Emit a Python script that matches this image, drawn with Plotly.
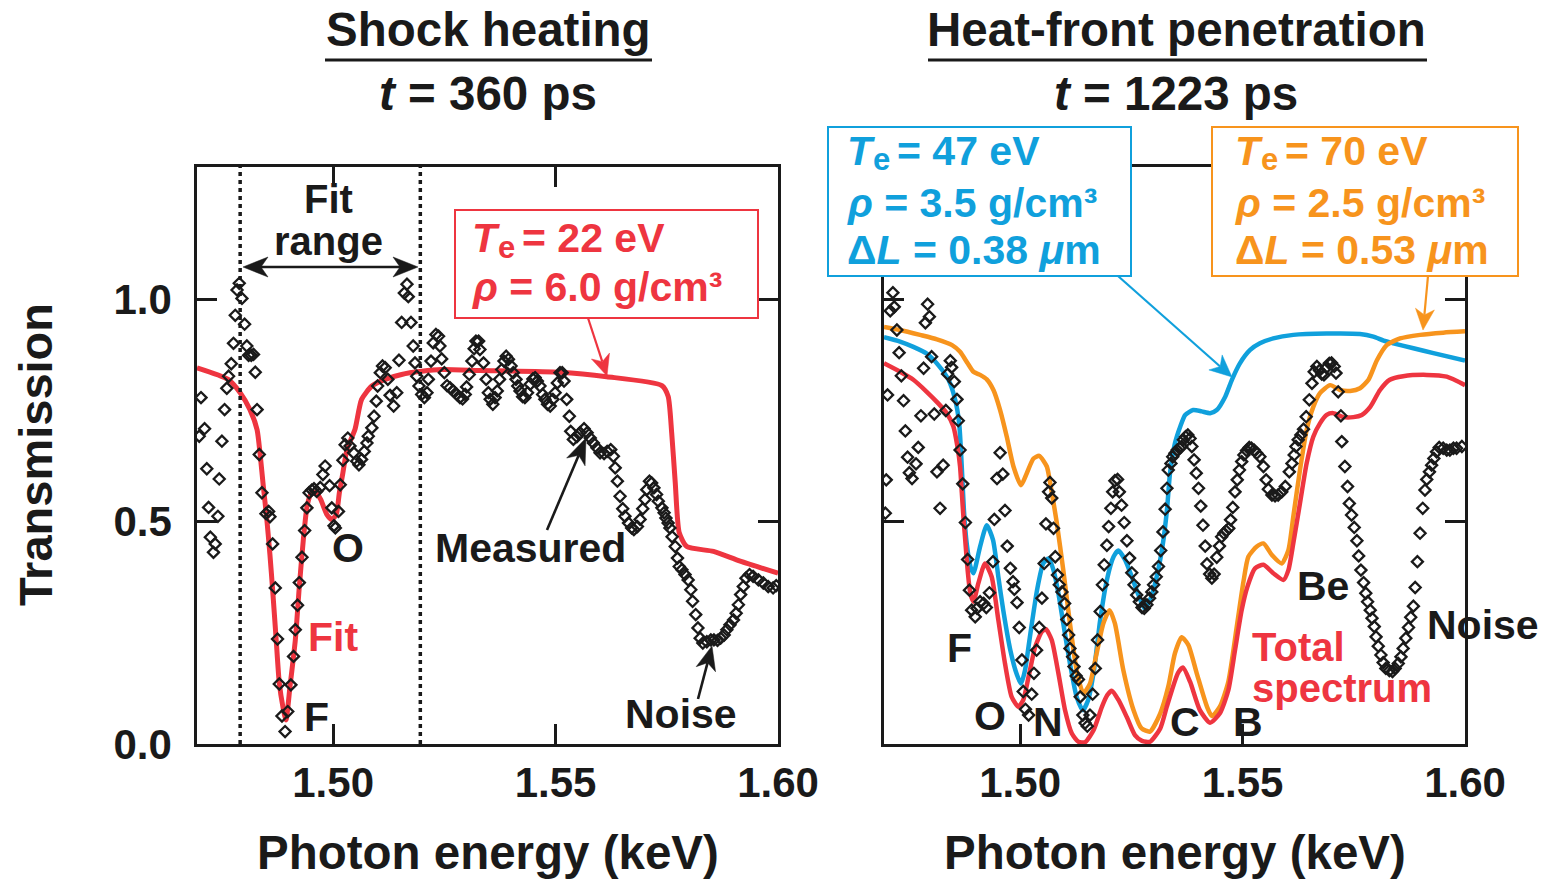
import math
import plotly.graph_objects as go

W, H = 1545, 879
FONT = "Liberation Sans, Arial, Helvetica, sans-serif"
BLACK = "#1a1a1a"
RED = "#EE3540"
BLUE = "#10A0DC"
ORANGE = "#F7941D"

# ---------------- data (photon energy keV, transmission) ----------------
# Left panel: t = 360 ps, measured transmission
left_measured = [
    (1.4699, 0.692), (1.4703, 0.779), (1.4711, 0.709), (1.4716, 0.619), (1.4720, 0.532), (1.4724, 0.465),
    (1.4731, 0.431), (1.4735, 0.450), (1.4741, 0.512), (1.4744, 0.596), (1.4750, 0.681), (1.4756, 0.752),
    (1.4761, 0.800), (1.4765, 0.827), (1.4771, 0.855), (1.4776, 0.901), (1.4780, 0.964), (1.4784, 1.021),
    (1.4789, 1.036), (1.4795, 1.002), (1.4801, 0.944), (1.4806, 0.895), (1.4810, 0.874), (1.4816, 0.874),
    (1.4821, 0.876), (1.4825, 0.836), (1.4829, 0.752), (1.4834, 0.651),
    (1.4840, 0.565), (1.4849, 0.518), (1.4855, 0.523), (1.4858, 0.511), (1.4864, 0.450), (1.4870, 0.351),
    (1.4875, 0.236), (1.4879, 0.135), (1.4885, 0.063), (1.4892, 0.028), (1.4898, 0.073), (1.4905, 0.133),
    (1.4911, 0.197), (1.4915, 0.257), (1.4920, 0.312), (1.4924, 0.363), (1.4930, 0.420), (1.4936, 0.480),
    (1.4941, 0.531), (1.4946, 0.565), (1.4952, 0.571), (1.4957, 0.574), (1.4963, 0.568), (1.4971, 0.577),
    (1.4977, 0.606), (1.4982, 0.625), (1.4992, 0.581), (1.4997, 0.531), (1.5002, 0.491), (1.5005, 0.486),
    (1.5012, 0.523), (1.5016, 0.583), (1.5022, 0.638), (1.5027, 0.673),
    (1.5033, 0.688), (1.5038, 0.670), (1.5046, 0.655), (1.5053, 0.636), (1.5058, 0.628), (1.5064, 0.640),
    (1.5070, 0.658), (1.5076, 0.677), (1.5079, 0.692), (1.5087, 0.711), (1.5092, 0.737), (1.5097, 0.771),
    (1.5100, 0.805), (1.5106, 0.835), (1.5111, 0.850), (1.5117, 0.846), (1.5123, 0.820), (1.5128, 0.784),
    (1.5136, 0.760), (1.5143, 0.790), (1.5148, 0.863), (1.5154, 0.948), (1.5160, 1.014), (1.5166, 1.034),
    (1.5169, 1.006), (1.5175, 0.948), (1.5180, 0.895), (1.5184, 0.857), (1.5188, 0.827), (1.5193, 0.805),
    (1.5199, 0.786), (1.5205, 0.779), (1.5211, 0.790), (1.5214, 0.820), (1.5220, 0.861), (1.5225, 0.902),
    (1.5231, 0.921), (1.5237, 0.917), (1.5240, 0.895), (1.5244, 0.866), (1.5250, 0.835),
    (1.5256, 0.806), (1.5263, 0.801), (1.5270, 0.794), (1.5278, 0.786), (1.5285, 0.779), (1.5291, 0.776),
    (1.5297, 0.786), (1.5300, 0.803), (1.5306, 0.831), (1.5312, 0.861), (1.5317, 0.889), (1.5321, 0.906),
    (1.5327, 0.906), (1.5330, 0.887), (1.5338, 0.857), (1.5344, 0.820), (1.5349, 0.790), (1.5353, 0.775),
    (1.5359, 0.764), (1.5364, 0.779), (1.5369, 0.794), (1.5374, 0.820), (1.5379, 0.842), (1.5384, 0.861),
    (1.5389, 0.872), (1.5394, 0.865), (1.5400, 0.850), (1.5405, 0.835), (1.5411, 0.820), (1.5415, 0.805),
    (1.5420, 0.794), (1.5426, 0.781), (1.5431, 0.779), (1.5437, 0.790), (1.5443, 0.809), (1.5449, 0.821),
    (1.5454, 0.824), (1.5459, 0.816), (1.5465, 0.805), (1.5471, 0.786), (1.5476, 0.775), (1.5482, 0.764),
    (1.5488, 0.760), (1.5494, 0.775), (1.5499, 0.790), (1.5504, 0.812), (1.5510, 0.835), (1.5515, 0.835),
    (1.5519, 0.816), (1.5525, 0.775), (1.5531, 0.737),
    (1.5534, 0.703), (1.5540, 0.685), (1.5548, 0.691), (1.5555, 0.700), (1.5564, 0.709), (1.5571, 0.700),
    (1.5578, 0.688), (1.5585, 0.677), (1.5593, 0.666), (1.5600, 0.655), (1.5609, 0.653), (1.5616, 0.658),
    (1.5624, 0.662), (1.5630, 0.647), (1.5634, 0.621), (1.5639, 0.591), (1.5645, 0.557), (1.5651, 0.529),
    (1.5656, 0.512), (1.5664, 0.497), (1.5671, 0.486), (1.5676, 0.482), (1.5684, 0.489), (1.5690, 0.505),
    (1.5696, 0.529), (1.5701, 0.550), (1.5705, 0.572), (1.5711, 0.591), (1.5716, 0.587), (1.5721, 0.576),
    (1.5727, 0.561), (1.5731, 0.546), (1.5739, 0.531), (1.5744, 0.520), (1.5748, 0.508), (1.5753, 0.497),
    (1.5757, 0.486), (1.5762, 0.466), (1.5769, 0.444), (1.5774, 0.418), (1.5778, 0.399), (1.5784, 0.392),
    (1.5791, 0.381), (1.5798, 0.369), (1.5804, 0.347), (1.5808, 0.321), (1.5815, 0.291), (1.5820, 0.261),
    (1.5825, 0.238), (1.5831, 0.227), (1.5840, 0.230), (1.5849, 0.234), (1.5856, 0.234), (1.5864, 0.233),
    (1.5871, 0.238), (1.5879, 0.245), (1.5885, 0.257), (1.5892, 0.268), (1.5900, 0.279), (1.5906, 0.294),
    (1.5911, 0.313), (1.5916, 0.336), (1.5922, 0.354), (1.5928, 0.373), (1.5936, 0.381), (1.5944, 0.377),
    (1.5956, 0.369), (1.5967, 0.362), (1.5978, 0.354), (1.5989, 0.351), (1.5996, 0.356),
]

# Left panel: fit (Te = 22 eV, rho = 6.0 g/cm3)
left_fit = [
    (1.4694, 0.846), (1.4764, 0.820), (1.4791, 0.790), (1.4813, 0.752), (1.4829, 0.707), (1.4836, 0.651),
    (1.4843, 0.580), (1.4851, 0.505), (1.4858, 0.425), (1.4864, 0.347), (1.4872, 0.234), (1.4879, 0.137),
    (1.4887, 0.084), (1.4894, 0.054), (1.4903, 0.129), (1.4915, 0.234), (1.4924, 0.354), (1.4933, 0.459),
    (1.4942, 0.538), (1.4952, 0.565), (1.4962, 0.565), (1.4972, 0.550), (1.4986, 0.516), (1.4997, 0.505),
    (1.5007, 0.516), (1.5014, 0.565), (1.5022, 0.610), (1.5031, 0.662), (1.5049, 0.707), (1.5064, 0.775),
    (1.5087, 0.805), (1.5117, 0.820), (1.5154, 0.831), (1.5199, 0.838), (1.5244, 0.842), (1.5330, 0.840),
    (1.5510, 0.836), (1.5615, 0.826), (1.5739, 0.806), (1.5753, 0.782), (1.5761, 0.700), (1.5769, 0.588),
    (1.5778, 0.475), (1.5795, 0.444), (1.5855, 0.433), (1.5915, 0.411), (1.6000, 0.384),
]

# Right panel: t = 1223 ps, measured transmission
right_measured = [
    (1.4697, 0.519), (1.4699, 0.594), (1.4702, 0.785), (1.4708, 0.974), (1.4714, 1.015), (1.4717, 0.983),
    (1.4723, 0.931), (1.4728, 0.880), (1.4733, 0.828), (1.4738, 0.772), (1.4742, 0.704), (1.4747, 0.645),
    (1.4751, 0.610), (1.4757, 0.597), (1.4766, 0.630), (1.4771, 0.667), (1.4777, 0.738), (1.4783, 0.845),
    (1.4787, 0.947), (1.4792, 0.989), (1.4796, 0.961), (1.4801, 0.871), (1.4807, 0.742), (1.4813, 0.612),
    (1.4820, 0.530), (1.4827, 0.627), (1.4833, 0.750), (1.4837, 0.832), (1.4843, 0.862), (1.4846, 0.847),
    (1.4852, 0.815), (1.4858, 0.775), (1.4861, 0.727), (1.4865, 0.661), (1.4871, 0.585), (1.4877, 0.498),
    (1.4882, 0.415), (1.4886, 0.346), (1.4891, 0.301), (1.4899, 0.286), (1.4903, 0.305), (1.4910, 0.320),
    (1.4918, 0.316), (1.4924, 0.307), (1.4931, 0.340), (1.4939, 0.410), (1.4942, 0.505), (1.4948, 0.597),
    (1.4955, 0.655), (1.4961, 0.607), (1.4966, 0.525), (1.4971, 0.445), (1.4978, 0.395), (1.4984, 0.365),
    (1.4987, 0.348), (1.4993, 0.318), (1.4998, 0.262), (1.5004, 0.189), (1.5007, 0.118), (1.5012, 0.078),
    (1.5019, 0.065), (1.5026, 0.112), (1.5031, 0.159), (1.5037, 0.211), (1.5043, 0.262), (1.5049, 0.328),
    (1.5054, 0.406), (1.5058, 0.495), (1.5064, 0.567), (1.5067, 0.588), (1.5071, 0.553), (1.5075, 0.485),
    (1.5079, 0.421), (1.5084, 0.380), (1.5088, 0.358), (1.5094, 0.342), (1.5100, 0.316), (1.5105, 0.280),
    (1.5109, 0.245), (1.5112, 0.215), (1.5118, 0.196), (1.5121, 0.174), (1.5126, 0.153), (1.5131, 0.145),
    (1.5135, 0.106), (1.5141, 0.065), (1.5146, 0.047), (1.5151, 0.040), (1.5157, 0.065), (1.5163, 0.112),
    (1.5169, 0.170), (1.5174, 0.234), (1.5180, 0.298), (1.5185, 0.358), (1.5189, 0.403), (1.5195, 0.447),
    (1.5199, 0.489), (1.5204, 0.530), (1.5208, 0.567), (1.5213, 0.592), (1.5219, 0.595), (1.5223, 0.567),
    (1.5228, 0.537), (1.5234, 0.498), (1.5240, 0.457), (1.5246, 0.418), (1.5251, 0.385), (1.5256, 0.358),
    (1.5262, 0.335), (1.5268, 0.320), (1.5274, 0.307), (1.5279, 0.305), (1.5285, 0.313), (1.5291, 0.328),
    (1.5296, 0.342), (1.5300, 0.358), (1.5306, 0.376), (1.5311, 0.399), (1.5316, 0.435), (1.5321, 0.477),
    (1.5326, 0.528), (1.5330, 0.575), (1.5333, 0.616),
    (1.5339, 0.631), (1.5343, 0.646), (1.5348, 0.654), (1.5353, 0.661), (1.5358, 0.665), (1.5363, 0.669),
    (1.5367, 0.684), (1.5372, 0.691), (1.5377, 0.695), (1.5382, 0.687), (1.5386, 0.669), (1.5391, 0.639),
    (1.5396, 0.609), (1.5401, 0.575), (1.5406, 0.535), (1.5411, 0.492), (1.5416, 0.445), (1.5420, 0.405),
    (1.5426, 0.382), (1.5431, 0.373), (1.5436, 0.382), (1.5442, 0.420), (1.5448, 0.445), (1.5453, 0.466),
    (1.5458, 0.474), (1.5463, 0.479), (1.5469, 0.485), (1.5473, 0.504), (1.5478, 0.532), (1.5483, 0.567),
    (1.5488, 0.594), (1.5493, 0.616), (1.5498, 0.635), (1.5503, 0.650), (1.5509, 0.660), (1.5515, 0.667),
    (1.5520, 0.665), (1.5526, 0.661), (1.5532, 0.654),
    (1.5539, 0.646), (1.5547, 0.624), (1.5553, 0.594), (1.5558, 0.573), (1.5566, 0.560), (1.5573, 0.558),
    (1.5580, 0.560), (1.5588, 0.567), (1.5596, 0.579), (1.5605, 0.612), (1.5611, 0.631), (1.5616, 0.650),
    (1.5620, 0.669), (1.5625, 0.684), (1.5631, 0.695), (1.5637, 0.708), (1.5643, 0.736), (1.5650, 0.774),
    (1.5656, 0.811), (1.5661, 0.837), (1.5667, 0.849), (1.5673, 0.840), (1.5678, 0.832), (1.5683, 0.830),
    (1.5689, 0.847), (1.5695, 0.856), (1.5700, 0.857), (1.5706, 0.849), (1.5710, 0.834), (1.5715, 0.792),
    (1.5721, 0.738), (1.5723, 0.680), (1.5730, 0.624), (1.5736, 0.579), (1.5740, 0.541), (1.5745, 0.515),
    (1.5751, 0.487), (1.5757, 0.457), (1.5761, 0.423), (1.5766, 0.391), (1.5772, 0.363), (1.5777, 0.339),
    (1.5781, 0.320), (1.5787, 0.301), (1.5791, 0.283), (1.5796, 0.264), (1.5800, 0.241), (1.5805, 0.220),
    (1.5811, 0.200), (1.5816, 0.183), (1.5822, 0.170), (1.5830, 0.165), (1.5837, 0.163), (1.5843, 0.170),
    (1.5850, 0.181), (1.5856, 0.196), (1.5861, 0.215), (1.5867, 0.238), (1.5873, 0.262), (1.5878, 0.285),
    (1.5884, 0.310), (1.5888, 0.352), (1.5893, 0.410), (1.5899, 0.474), (1.5905, 0.530), (1.5910, 0.571),
    (1.5914, 0.595), (1.5920, 0.612), (1.5925, 0.627), (1.5930, 0.642), (1.5936, 0.657), (1.5942, 0.667),
    (1.5951, 0.665), (1.5959, 0.661), (1.5966, 0.661), (1.5974, 0.665), (1.5981, 0.665), (1.5993, 0.669),
]

# Right panel: model 47 eV component
right_47eV = [
    (1.4694, 0.915), (1.4730, 0.905), (1.4760, 0.893), (1.4790, 0.878), (1.4816, 0.852), (1.4839, 0.819),
    (1.4854, 0.774), (1.4863, 0.721), (1.4869, 0.620), (1.4874, 0.520), (1.4880, 0.450), (1.4888, 0.400),
    (1.4895, 0.384), (1.4910, 0.444), (1.4925, 0.492), (1.4939, 0.459), (1.4951, 0.376), (1.4962, 0.301),
    (1.4978, 0.211), (1.4993, 0.155), (1.5002, 0.136), (1.5011, 0.166), (1.5022, 0.241), (1.5038, 0.346),
    (1.5052, 0.406), (1.5064, 0.417), (1.5075, 0.391), (1.5086, 0.339), (1.5097, 0.271), (1.5112, 0.181),
    (1.5127, 0.106), (1.5141, 0.076), (1.5153, 0.099), (1.5166, 0.166), (1.5180, 0.279), (1.5195, 0.369),
    (1.5210, 0.421), (1.5221, 0.435), (1.5236, 0.414), (1.5251, 0.376), (1.5266, 0.335), (1.5279, 0.305),
    (1.5292, 0.324), (1.5307, 0.376), (1.5321, 0.451), (1.5330, 0.526), (1.5337, 0.610), (1.5348, 0.676),
    (1.5360, 0.714), (1.5371, 0.740), (1.5389, 0.751), (1.5408, 0.748), (1.5427, 0.744), (1.5442, 0.751),
    (1.5461, 0.781), (1.5476, 0.819), (1.5494, 0.856), (1.5517, 0.886), (1.5539, 0.901), (1.5569, 0.912),
    (1.5614, 0.920), (1.5689, 0.923), (1.5764, 0.922), (1.5794, 0.916), (1.5817, 0.907), (1.5839, 0.901),
    (1.5884, 0.890), (1.5929, 0.879), (1.6000, 0.862),
]

# Right panel: model 70 eV component
right_70eV = [
    (1.4694, 0.938), (1.4730, 0.931), (1.4775, 0.920), (1.4813, 0.910), (1.4847, 0.897), (1.4865, 0.882),
    (1.4882, 0.856), (1.4895, 0.837), (1.4910, 0.830), (1.4925, 0.820), (1.4940, 0.796), (1.4955, 0.751),
    (1.4970, 0.691), (1.4985, 0.624), (1.5002, 0.582), (1.5015, 0.609), (1.5030, 0.642), (1.5043, 0.648),
    (1.5060, 0.624), (1.5067, 0.590), (1.5082, 0.500), (1.5097, 0.391), (1.5112, 0.271), (1.5127, 0.166),
    (1.5142, 0.114), (1.5157, 0.136), (1.5172, 0.204), (1.5187, 0.271), (1.5201, 0.301), (1.5213, 0.271),
    (1.5232, 0.166), (1.5255, 0.076), (1.5273, 0.035), (1.5292, 0.028), (1.5315, 0.069), (1.5333, 0.129),
    (1.5348, 0.204), (1.5363, 0.240), (1.5378, 0.223), (1.5397, 0.159), (1.5420, 0.084), (1.5431, 0.063),
    (1.5449, 0.084), (1.5468, 0.140), (1.5487, 0.264), (1.5502, 0.365), (1.5513, 0.421), (1.5532, 0.444),
    (1.5547, 0.451), (1.5566, 0.425), (1.5588, 0.406), (1.5603, 0.436), (1.5614, 0.511), (1.5629, 0.616),
    (1.5644, 0.706), (1.5659, 0.758), (1.5674, 0.789), (1.5697, 0.807), (1.5719, 0.796), (1.5742, 0.794),
    (1.5764, 0.800), (1.5783, 0.819), (1.5802, 0.863), (1.5824, 0.897), (1.5854, 0.912), (1.5899, 0.920),
    (1.5951, 0.925), (1.6000, 0.928),
]

# Right panel: total spectrum
right_total = [
    (1.4694, 0.856), (1.4730, 0.837), (1.4760, 0.819), (1.4790, 0.792), (1.4816, 0.766), (1.4835, 0.744),
    (1.4850, 0.714), (1.4859, 0.669), (1.4865, 0.624), (1.4869, 0.564), (1.4873, 0.504), (1.4876, 0.466),
    (1.4882, 0.391), (1.4888, 0.339), (1.4895, 0.320), (1.4906, 0.361), (1.4921, 0.406), (1.4936, 0.376),
    (1.4951, 0.279), (1.4966, 0.181), (1.4981, 0.106), (1.4996, 0.084), (1.5007, 0.099), (1.5019, 0.151),
    (1.5034, 0.219), (1.5049, 0.253), (1.5058, 0.258), (1.5071, 0.234), (1.5086, 0.159), (1.5101, 0.076),
    (1.5116, 0.024), (1.5131, 0.005), (1.5146, 0.004), (1.5165, 0.031), (1.5184, 0.084), (1.5196, 0.110),
    (1.5206, 0.120), (1.5221, 0.099), (1.5240, 0.060), (1.5258, 0.020), (1.5274, 0.007), (1.5292, 0.005),
    (1.5315, 0.035), (1.5330, 0.085), (1.5344, 0.130), (1.5355, 0.160), (1.5366, 0.172), (1.5382, 0.140),
    (1.5404, 0.076), (1.5427, 0.048), (1.5449, 0.069), (1.5468, 0.121), (1.5483, 0.211), (1.5498, 0.301),
    (1.5511, 0.354), (1.5528, 0.395), (1.5547, 0.403), (1.5569, 0.384), (1.5592, 0.369), (1.5603, 0.391),
    (1.5614, 0.451), (1.5629, 0.541), (1.5644, 0.631), (1.5659, 0.691), (1.5674, 0.721), (1.5689, 0.740),
    (1.5704, 0.744), (1.5727, 0.735), (1.5749, 0.735), (1.5768, 0.740), (1.5787, 0.758), (1.5809, 0.796),
    (1.5831, 0.819), (1.5861, 0.827), (1.5914, 0.830), (1.5959, 0.826), (1.6000, 0.807),
]

x_range = [1.4694, 1.6000]
y_range = [0.0, 1.2975]
x_tick_vals = [1.50, 1.55, 1.60]
x_tick_text = ["1.50", "1.55", "1.60"]
y_tick_vals = [0.0, 0.5, 1.0]
y_tick_text = ["0.0", "0.5", "1.0"]
fit_range = [1.4791, 1.5196]

# fitted parameters shown in the boxes
fit_params_left = dict(Te="22", rho="6.0")
fit_params_47 = dict(Te="47", rho="3.5", dL="0.38")
fit_params_70 = dict(Te="70", rho="2.5", dL="0.53")


def xs(pairs):
    return [p[0] for p in pairs]


def ys(pairs):
    return [p[1] for p in pairs]


# ---------------- layout helpers (pixel -> paper) ----------------
def PX(px):
    return px / W


def PY(py):
    return 1 - py / H


fig = go.Figure()

line_smooth = dict(shape="spline", smoothing=0.6)
marker_style = dict(symbol="diamond-open", size=8.5, color=BLACK, line=dict(width=2.3, color=BLACK))

# left panel
fig.add_trace(go.Scatter(x=xs(left_fit), y=ys(left_fit), mode="lines",
                         line=dict(color=RED, width=5, **line_smooth), xaxis="x", yaxis="y"))
fig.add_trace(go.Scatter(x=xs(left_measured), y=ys(left_measured), mode="markers",
                         marker=marker_style, xaxis="x", yaxis="y"))

# right panel
fig.add_trace(go.Scatter(x=xs(right_47eV), y=ys(right_47eV), mode="lines",
                         line=dict(color=BLUE, width=4.5, **line_smooth), xaxis="x2", yaxis="y2"))
fig.add_trace(go.Scatter(x=xs(right_70eV), y=ys(right_70eV), mode="lines",
                         line=dict(color=ORANGE, width=4.5, **line_smooth), xaxis="x2", yaxis="y2"))
fig.add_trace(go.Scatter(x=xs(right_total), y=ys(right_total), mode="lines",
                         line=dict(color=RED, width=4.5, **line_smooth), xaxis="x2", yaxis="y2"))
fig.add_trace(go.Scatter(x=xs(right_measured), y=ys(right_measured), mode="markers",
                         marker=marker_style, xaxis="x2", yaxis="y2"))

axis_common = dict(showgrid=False, zeroline=False, showline=True, linecolor=BLACK, linewidth=2.5,
                   mirror="allticks", ticks="inside", ticklen=20, tickwidth=2.5, tickcolor=BLACK,
                   automargin=False,
                   tickfont=dict(family=FONT, size=42, color=BLACK, weight="bold"))

xdom_left = [PX(197), PX(778)]
xdom_right = [PX(884), PX(1465)]
ydom = [PY(744), PY(167)]

fig.update_layout(
    template="none",
    width=W, height=H, autosize=False,
    margin=dict(l=0, r=0, t=0, b=0, pad=0, autoexpand=False),
    paper_bgcolor="white", plot_bgcolor="white", showlegend=False,
    xaxis=dict(domain=xdom_left, range=x_range, anchor="y", tickvals=x_tick_vals, ticktext=x_tick_text,
               ticklabelstandoff=0, **axis_common),
    yaxis=dict(domain=ydom, range=y_range, anchor="x", tickvals=y_tick_vals, ticktext=y_tick_text,
               ticklabelstandoff=14, **axis_common),
    xaxis2=dict(domain=xdom_right, range=x_range, anchor="y2", tickvals=x_tick_vals, ticktext=x_tick_text,
                ticklabelstandoff=0, **axis_common),
    yaxis2=dict(domain=ydom, range=y_range, anchor="x2", tickvals=y_tick_vals, showticklabels=False,
                **axis_common),
)

shapes = []
# fit range dotted lines
for xv in fit_range:
    shapes.append(dict(type="line", xref="x", yref="y", x0=xv, x1=xv, y0=y_range[0], y1=y_range[1],
                       line=dict(color=BLACK, width=3.5, dash="4px,4px")))
# title underlines
shapes.append(dict(type="line", xref="paper", yref="paper", x0=PX(325), x1=PX(652), y0=PY(60), y1=PY(60),
                   line=dict(color=BLACK, width=3)))
shapes.append(dict(type="line", xref="paper", yref="paper", x0=PX(928), x1=PX(1427), y0=PY(60), y1=PY(60),
                   line=dict(color=BLACK, width=3)))
# parameter boxes
for (x0, y0, x1, y1, col) in [(455, 210, 758, 318, RED), (828, 127, 1131, 276, BLUE), (1212, 127, 1518, 276, ORANGE)]:
    shapes.append(dict(type="rect", xref="paper", yref="paper", x0=PX(x0), x1=PX(x1), y0=PY(y1), y1=PY(y0),
                       fillcolor="white", line=dict(color=col, width=2), layer="above"))


def arrow_head(tip, back, color, length, half):
    """filled, notched arrowhead at pixel point tip, pointing away from pixel point back"""
    dx, dy = tip[0] - back[0], tip[1] - back[1]
    n = math.hypot(dx, dy)
    ux, uy = dx / n, dy / n
    bx, by = tip[0] - length * ux, tip[1] - length * uy
    nx, ny = -uy, ux
    notch = (tip[0] - 0.72 * length * ux, tip[1] - 0.72 * length * uy)
    pts = [tip, (bx + half * nx, by + half * ny), notch, (bx - half * nx, by - half * ny)]
    path = "M " + " L ".join(f"{PX(p[0]):.6f} {PY(p[1]):.6f}" for p in pts) + " Z"
    shapes.append(dict(type="path", xref="paper", yref="paper", path=path, fillcolor=color,
                       line=dict(color=color, width=0.5), layer="above"))
    return notch


def arrow(tail, head, color=BLACK, width=2.6, length=24, half=10, both=False):
    end = arrow_head(head, tail, color, length, half)
    start = arrow_head(tail, head, color, length, half) if both else tail
    shapes.append(dict(type="line", xref="paper", yref="paper",
                       x0=PX(start[0]), y0=PY(start[1]), x1=PX(end[0]), y1=PY(end[1]),
                       line=dict(color=color, width=width), layer="above"))


arrow((243, 267), (418, 267), both=True, length=25, half=10)
arrow((588, 318), (607, 376), color=RED, width=2.2, length=21, half=9.5)
arrow((547, 530), (586, 438), length=26, half=10)
arrow((698, 699), (712, 646), length=24, half=10)
arrow((1118, 276), (1232, 377), color=BLUE, width=2.2, length=22, half=10)
arrow((1428, 276), (1423, 330), color=ORANGE, width=2.2, length=21, half=9.5)

fig.update_layout(shapes=shapes)

ann = []


def text(t, px, py, size=41, color=BLACK, xanchor="center", angle=0):
    ann.append(dict(text=t, x=PX(px), y=PY(py), xref="paper", yref="paper", showarrow=False,
                    xanchor=xanchor, yanchor="middle", textangle=angle,
                    font=dict(family=FONT, size=size, color=color)))


def param_box_text(params, left, first_y, color, step):
    """T_e line (subscript drawn as its own smaller, lowered text), rho line, optional dL line"""
    text("<b><i>T</i></b>", left, first_y, color=color, xanchor="left")
    text("<b>e</b>", left + 26, first_y + 9, 31, color=color, xanchor="left")
    text(f"<b>= {params['Te']} eV</b>", left + 50, first_y, color=color, xanchor="left")
    text(f"<b><i>ρ</i> = {params['rho']} g/cm³</b>", left, first_y + step, color=color, xanchor="left")
    if "dL" in params:
        text(f"<b>Δ<i>L</i> = {params['dL']} <i>μ</i>m</b>", left, first_y + step + 47, color=color,
             xanchor="left")


# titles
text("<b>Shock heating</b>", 488, 29, 47.5)
text("<b><i>t</i> = 360 ps</b>", 488, 93, 47.5)
text("<b>Heat-front penetration</b>", 1176, 29, 47.5)
text("<b><i>t</i> = 1223 ps</b>", 1176, 93, 47.5)
# axis titles
text("<b>Photon energy (keV)</b>", 488, 852, 47.5)
text("<b>Photon energy (keV)</b>", 1175, 852, 47.5)
text("<b>Transmission</b>", 35, 455, 47, angle=-90)

# left panel labels
text("<b>Fit</b>", 328, 199, 40)
text("<b>range</b>", 328, 241, 40)
text("<b>O</b>", 348, 548)
text("<b>F</b>", 316, 717)
text("<b>Fit</b>", 333, 637, color=RED)
text("<b>Measured</b>", 530, 548)
text("<b>Noise</b>", 681, 714)
param_box_text(fit_params_left, 470, 238, RED, 49)

# right panel labels
text("<b>F</b>", 960, 648)
text("<b>O</b>", 990, 716)
text("<b>N</b>", 1048, 722)
text("<b>C</b>", 1185, 722)
text("<b>B</b>", 1248, 722)
text("<b>Be</b>", 1323, 586)
text("<b>Noise</b>", 1483, 625)
text("<b>Total</b>", 1250, 647, 40, color=RED, xanchor="left")
text("<b>spectrum</b>", 1250, 688, 40, color=RED, xanchor="left")
param_box_text(fit_params_47, 845, 151, BLUE, 52)
param_box_text(fit_params_70, 1233, 151, ORANGE, 52)

fig.update_layout(annotations=ann)

fig.write_html("out.html", config={"displayModeBar": False})
